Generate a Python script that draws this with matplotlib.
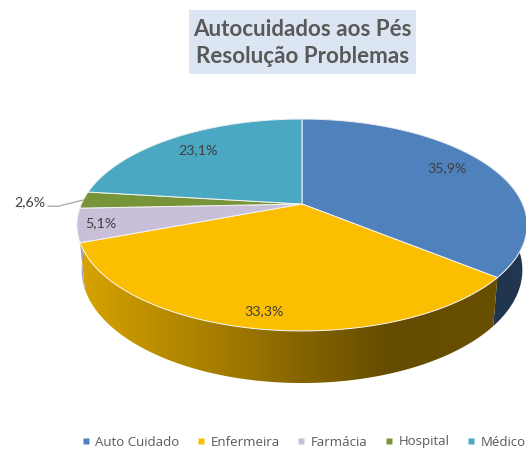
import numpy as np
import matplotlib
matplotlib.use("Agg")
import matplotlib.pyplot as plt
from matplotlib.patches import Polygon, Rectangle
from matplotlib.lines import Line2D

# ---------- data ----------
categories = ["Auto Cuidado", "Enfermeira", "Farmácia", "Hospital", "Médico"]
counts = [14, 13, 2, 1, 9]
title_lines = ["Autocuidados aos Pés", "Resolução Problemas"]

# ---------- style ----------
colors = ["#4f81bd", "#fbbe00", "#c9bfd9", "#789438", "#4aa8c2"]
TEXT = "#404040"
LABEL_F = [0.80, 0.88, 0.897, 1.24, 0.793]   # radial position of the labels
LABEL_DA = [-2.6, 0, 0, -1.5, 0]             # angular nudge of the labels (deg)

W, H = 526, 451
CX, CY, R, S, K = 302.0, 204.0, 220.6, 101.8, 0.198     # top face projection
CY2, R2, S2 = 247.6, 216.0, 108.6                       # bottom rim projection

fig = plt.figure(figsize=(W / 100, H / 100), dpi=100)
ax = fig.add_axes([0, 0, 1, 1])
ax.set_xlim(0, W)
ax.set_ylim(H, 0)
ax.axis("off")


def top(theta, f=1.0):
    u, v = f * np.sin(theta), f * np.cos(theta)
    d = 1 + K * v
    return CX + R * u / d, CY - S * v / d


def rim(theta):
    u, v = np.sin(theta), np.cos(theta)
    d = 1 + K * v
    return CX + R2 * u / d, CY2 - S2 * v / d


def shade(x):
    return np.interp(x, [80, 390, 526], [0.86, 0.40, 0.42])


values = np.asarray(counts, dtype=float)
fractions = values / values.sum()
edges = np.concatenate([[0], np.cumsum(fractions)]) * 2 * np.pi
mids = (edges[:-1] + edges[1:]) / 2

# side wall, shaded by horizontal position
xs = np.arange(0, W + 1)
for start, end, col in zip(edges[:-1], edges[1:], colors):
    th = np.linspace(start, end, 200)
    tx, ty = top(th)
    bx, by = rim(th)
    poly = Polygon(np.r_[np.c_[tx, ty], np.c_[bx, by][::-1]], closed=True,
                   facecolor="none", edgecolor="none", transform=ax.transData)
    ax.add_patch(poly)
    rgb = np.array(matplotlib.colors.to_rgb(col))
    img = (rgb[None, None, :] * shade(xs)[None, :, None])
    im = ax.imshow(img, extent=(0, W, H, 0), aspect="auto", zorder=1,
                   interpolation="bilinear")
    im.set_clip_path(poly)

# top face
for start, end, col in zip(edges[:-1], edges[1:], colors):
    th = np.linspace(start, end, 200)
    tx, ty = top(th)
    ax.add_patch(Polygon(np.r_[[[CX, CY]], np.c_[tx, ty]], closed=True,
                         facecolor=col, edgecolor="#f4f4f4", linewidth=0.7,
                         joinstyle="round", zorder=2))
ax.set_xlim(0, W)
ax.set_ylim(H, 0)

# value labels
for i, (frac, mid) in enumerate(zip(fractions, mids)):
    lx, ly = top(mid + np.radians(LABEL_DA[i]), LABEL_F[i])
    ax.text(lx, ly, f"{frac * 100:.1f}%".replace(".", ","), ha="center",
            va="center", fontsize=10.3, family="Lato", color=TEXT, zorder=4)
    if frac < 0.04:
        ex, ey = top(mid)
        ax.plot([ex, lx + 29, lx + 18], [ey, ly + 4, ly + 4], color="#a6a6a6",
                lw=0.9, zorder=3, solid_capstyle="butt")

# title
ax.add_patch(Rectangle((189, 10), 227, 64, facecolor="#dce6f2",
                       edgecolor="none", zorder=3))
ax.text(302.5, 43, "\n".join(title_lines), ha="center", va="center",
        fontsize=16.1, family="Lato", fontweight="bold", color="#595959",
        linespacing=1.4, zorder=4)

# legend
handles = [Line2D([], [], linestyle="none", marker="s", markersize=3.7,
                  markerfacecolor=c, markeredgecolor="none") for c in colors]
leg = ax.legend(handles, categories, ncol=5, frameon=False,
                loc="center left", bbox_to_anchor=(82 / W, 1 - 442 / H),
                bbox_transform=ax.transAxes,
                prop={"family": "Open Sans", "size": 9.5},
                labelcolor="#595959", handlelength=0.6, handletextpad=0.42,
                columnspacing=1.33, borderaxespad=0, borderpad=0)

fig.savefig("out.png", dpi=100, facecolor="white")
